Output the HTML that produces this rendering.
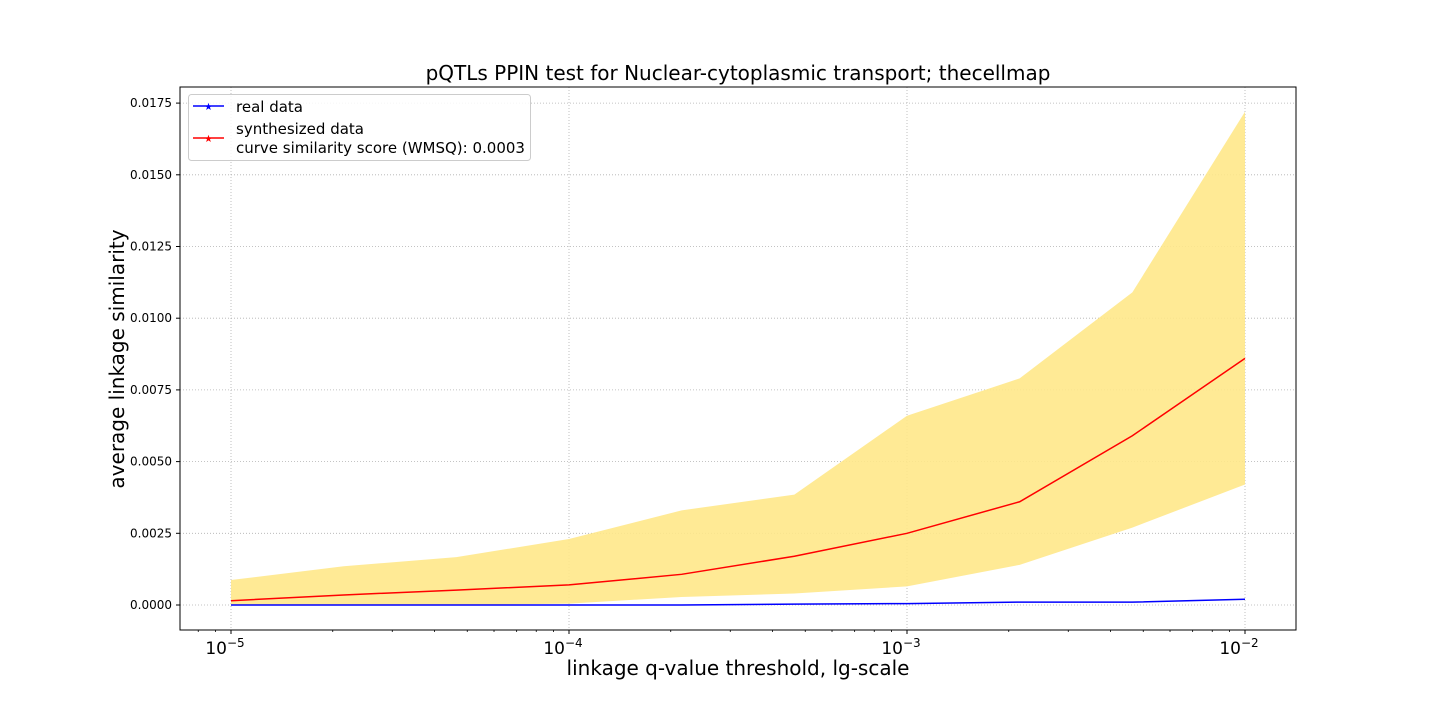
<!DOCTYPE html>
<html><head><meta charset="utf-8"><style>
body{margin:0;background:#fff;}
svg text{font-family:"DejaVu Sans","Liberation Sans",sans-serif;}
</style></head><body>
<svg id="c" width="1440" height="720" xmlns="http://www.w3.org/2000/svg"></svg>
<script>
const exps=[-5,-4.6667,-4.3333,-4,-3.6667,-3.3333,-3,-2.6667,-2.3333,-2];
const realVals=[0,0,0,0,0,0.00003,0.00005,0.0001,0.0001,0.0002];
const synthVals=[0.00015,0.00035,0.00052,0.0007,0.00107,0.0017,0.0025,0.0036,0.0059,0.0086];
const upperVals=[0.00087,0.00135,0.00167,0.0023,0.0033,0.00385,0.0066,0.0079,0.0109,0.0172];
const lowerVals=[0,0,0,0.00005,0.00028,0.0004,0.00065,0.0014,0.0027,0.0042];
const yTicks=[0,0.0025,0.005,0.0075,0.01,0.0125,0.015,0.0175];
const yTickLabels=["0.0000","0.0025","0.0050","0.0075","0.0100","0.0125","0.0150","0.0175"];
const xTickExps=[-5,-4,-3,-2];

const L=180,R=1296,T=87,B=630;
const X=e=>231+(e+5)*338;
const Y=v=>605-v/0.0025*71.7;
const svg=document.getElementById('c');
const NS='http://www.w3.org/2000/svg';
function mk(tag,attrs,parent){const el=document.createElementNS(NS,tag);for(const k in attrs)el.setAttribute(k,attrs[k]);(parent||svg).appendChild(el);return el;}

yTicks.forEach((v,i)=>{
  const g=mk('line',{x1:L,x2:R,y1:Y(v),y2:Y(v),stroke:'#b0b0b0','stroke-width':0.8,'stroke-dasharray':'1,2'});
  
  
  mk('line',{x1:L-4,x2:L,y1:Y(v),y2:Y(v),stroke:'#000'});
  const t=mk('text',{x:L-8,y:Y(v)+4,'text-anchor':'end','font-size':12});
  t.textContent=yTickLabels[i];
  
  
});
xTickExps.forEach(e=>{
  const g=mk('line',{x1:X(e),x2:X(e),y1:T,y2:B,stroke:'#b0b0b0','stroke-width':0.8,'stroke-dasharray':'1,2'});
  
  
  mk('line',{x1:X(e),x2:X(e),y1:B,y2:B+4,stroke:'#000'});
  const t=mk('text',{x:X(e)-6,y:B+24,'text-anchor':'middle','font-size':17});
  t.textContent='10';
  const s=mk('tspan',{dy:-7,'font-size':12},t);s.textContent='\u2212'+(-e);
  
  
});
for(let d=-6;d<=-2;d++)for(let m=2;m<=9;m++){const e=d+Math.log10(m);const x=X(e);if(x>L&&x<R)mk('line',{x1:x,x2:x,y1:B,y2:B+2,stroke:'#000','stroke-width':0.8});}

let pts=exps.map((e,i)=>X(e)+','+Y(upperVals[i]));
pts=pts.concat(exps.map((e,i)=>X(e)+','+Y(lowerVals[i])).reverse());
const band=mk('polygon',{points:pts.join(' '),fill:'#ffe88a',opacity:0.9});



const red=mk('polyline',{points:exps.map((e,i)=>X(e)+','+Y(synthVals[i])).join(' '),fill:'none',stroke:'#ff0000','stroke-width':1.5});


const blue=mk('polyline',{points:exps.map((e,i)=>X(e)+','+Y(realVals[i])).join(' '),fill:'none',stroke:'#0000ff','stroke-width':1.5});



const frame=mk('rect',{x:L,y:T,width:R-L,height:B-T,fill:'none',stroke:'#000','stroke-width':1});


</script>
<svg style="position:absolute;left:0;top:0" width="1440" height="720" xmlns="http://www.w3.org/2000/svg">
<g>
<rect x="188.5" y="94.5" width="342" height="66" rx="3" fill="#fff" fill-opacity="0.85" stroke="#ccc"/>
<line x1="193" y1="106" x2="224" y2="106" stroke="#0000ff" stroke-width="1.5"/><text x="208.5" y="110" font-size="10" fill="#0000ff" text-anchor="middle">★</text>
<text x="236" y="112" font-size="15" font-family="DejaVu Sans, Liberation Sans, sans-serif">real data</text>
<line x1="193" y1="138" x2="224" y2="138" stroke="#ff0000" stroke-width="1.5"/><text x="208.5" y="142" font-size="10" fill="#ff0000" text-anchor="middle">★</text>
<text x="236" y="134" font-size="15" font-family="DejaVu Sans, Liberation Sans, sans-serif">synthesized data</text>
<text x="236" y="153" font-size="15" font-family="DejaVu Sans, Liberation Sans, sans-serif">curve similarity score (WMSQ): 0.0003</text>
</g>
<text x="738" y="80" text-anchor="middle" font-size="20" font-family="DejaVu Sans, Liberation Sans, sans-serif">pQTLs PPIN test for Nuclear-cytoplasmic transport; thecellmap</text>
<text x="738" y="675" text-anchor="middle" font-size="20" font-family="DejaVu Sans, Liberation Sans, sans-serif">linkage q-value threshold, lg-scale</text>
<text transform="translate(124,359) rotate(-90)" text-anchor="middle" font-size="20" font-family="DejaVu Sans, Liberation Sans, sans-serif">average linkage similarity</text>
</svg>
</body></html>
